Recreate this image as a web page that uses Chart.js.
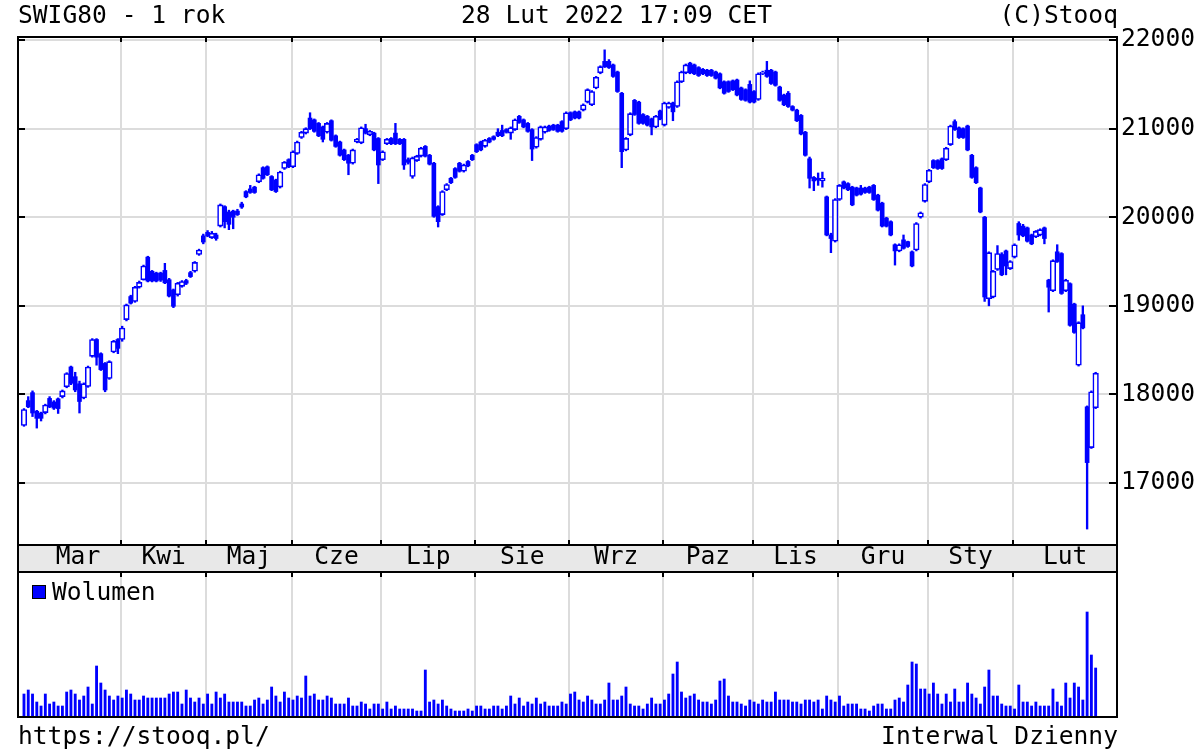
<!DOCTYPE html>
<html>
<head>
<meta charset="utf-8">
<title>SWIG80 - 1 rok</title>
<script src="https://cdn.jsdelivr.net/npm/chart.js@4.4.1/dist/chart.umd.min.js"></script>
<style>
  body { margin: 0; background: #fff; }
  #wrap { position: relative; width: 1200px; height: 750px; overflow: hidden;
          font-family: 'DejaVu Sans Mono', monospace; font-size: 24.6px; color: #000; }
  .t { position: absolute; white-space: pre; line-height: 24px; }
  canvas { position: absolute; left: 0; }
  #legbox { position: absolute; left: 32px; top: 585px; width: 14px; height: 14px;
            box-sizing: border-box; border: 1px solid #000; background: #0000ff; }
</style>
</head>
<body>
<div id="wrap">
  <canvas id="price" width="1200" height="580" style="top:0"></canvas>
  <canvas id="vol" width="1200" height="165" style="top:560px"></canvas>
  <div class="t" style="left:18px;top:3px">SWIG80 - 1 rok</div>
  <div class="t" style="left:461px;top:3px">28 Lut 2022 17:09 CET</div>
  <div class="t" style="right:82px;top:3px">(C)Stooq</div>
  <div id="legbox"></div>
  <div class="t" style="left:52px;top:580px">Wolumen</div>
  <div class="t" style="left:18px;top:724px">https://stooq.pl/</div>
  <div class="t" style="right:82px;top:724px">Interwal Dzienny</div>
</div>
<script>
// sWIG80 daily candles, 1 Mar 2021 .. 28 Feb 2022 (index = trading day)
var open = [
  17650,17930,18020,17810,17790,17795,17955,17915,17950,17975,
  18085,18310,18200,18120,17960,18090,18430,18620,18460,18350,
  18180,18480,18620,18620,18845,19105,19050,19210,19295,19550,
  19390,19370,19370,19400,19295,19180,19125,19220,19285,19375,
  19390,19580,19790,19830,19770,19800,19900,20120,20060,20070,
  20070,20150,20290,20320,20340,20400,20560,20570,20460,20420,
  20340,20550,20650,20570,20720,20900,20950,21120,21100,21060,
  21020,20960,21090,20920,20850,20760,20700,20610,20850,20840,
  21000,20930,20950,20890,20650,20830,20890,20950,20880,20880,
  20650,20460,20640,20690,20800,20700,20610,20120,20030,20310,
  20440,20550,20610,20520,20630,20700,20820,20850,20800,20890,
  20910,20960,20980,20990,20950,20990,21140,21100,21060,20990,
  20790,20880,20960,21030,21040,21040,21080,21000,21180,21190,
  21190,21210,21300,21270,21460,21630,21760,21760,21720,21640,
  21400,20760,20930,21320,21300,21160,21140,21110,21020,21200,
  21040,21240,21290,21250,21530,21630,21740,21720,21690,21670,
  21660,21660,21640,21620,21530,21530,21540,21550,21460,21440,
  21500,21420,21330,21620,21660,21660,21640,21470,21380,21400,
  21250,21210,21150,20960,20660,20450,20440,20410,20230,19800,
  19730,20200,20400,20380,20340,20330,20330,20330,20340,20360,
  20250,20160,19990,19950,19690,19620,19745,19725,19610,19630,
  20000,20180,20400,20640,20640,20660,20650,20820,21080,21010,
  21000,21030,20700,20560,20330,20000,19080,19100,19410,19580,
  19620,19420,19550,19930,19900,19880,19800,19780,19800,19880,
  19290,19170,19610,19590,19170,19250,19020,18330,18900,17860,
  17400,17850
];
var high = [
  17840,17975,18040,17820,17800,17890,17975,17930,17960,18050,
  18245,18320,18250,18150,18130,18320,18630,18630,18470,18360,
  18380,18610,18630,18770,19020,19120,19220,19280,19460,19560,
  19400,19380,19380,19480,19310,19190,19265,19285,19300,19390,
  19500,19640,19810,19850,19840,19820,20150,20130,20080,20080,
  20090,20170,20300,20360,20350,20490,20570,20580,20470,20430,
  20520,20630,20660,20750,20860,20970,21010,21180,21110,21070,
  21030,21070,21100,20930,20860,20770,20710,20770,20890,21020,
  21050,20980,20960,20900,20750,20890,20900,21060,20890,20890,
  20670,20680,20700,20790,20810,20710,20620,20130,20300,20380,
  20450,20560,20620,20600,20640,20710,20830,20860,20880,20900,
  20920,21000,21040,21000,21020,21110,21150,21110,21070,21000,
  20910,21030,21030,21040,21050,21050,21090,21190,21190,21200,
  21200,21280,21450,21430,21590,21710,21890,21780,21730,21650,
  21410,20900,21180,21330,21310,21170,21150,21120,21150,21210,
  21300,21300,21300,21540,21650,21730,21750,21730,21700,21680,
  21670,21670,21650,21630,21540,21540,21550,21560,21470,21450,
  21540,21430,21630,21650,21760,21670,21650,21480,21390,21420,
  21260,21220,21160,20970,20680,20460,20500,20510,20240,19820,
  20210,20370,20410,20390,20350,20340,20360,20340,20350,20370,
  20260,20170,20000,19960,19700,19700,19800,19730,19620,19940,
  20060,20380,20540,20650,20650,20670,20790,21040,21100,21020,
  21010,21040,20710,20570,20340,20010,19610,19400,19680,19600,
  19630,19510,19700,19950,19920,19890,19810,19850,19870,19890,
  19300,19520,19690,19600,19300,19260,19030,18820,19000,17870,
  18040,18250
];
var low = [
  17640,17850,17750,17620,17700,17780,17850,17830,17785,17960,
  18075,18110,18030,17790,17950,18080,18420,18330,18270,18030,
  18170,18470,18460,18600,18830,19020,19040,19200,19290,19270,
  19270,19270,19275,19250,19100,18980,19110,19210,19240,19320,
  19380,19570,19700,19780,19760,19740,19890,19880,19860,19870,
  20020,20100,20220,20270,20270,20390,20430,20470,20300,20280,
  20330,20540,20560,20560,20710,20890,20940,20990,20960,20910,
  20850,20950,20860,20790,20690,20640,20480,20600,20840,20830,
  20940,20920,20750,20380,20640,20820,20820,20820,20820,20540,
  20600,20440,20630,20680,20680,20590,20000,19890,20020,20300,
  20380,20440,20510,20510,20570,20640,20730,20750,20790,20840,
  20870,20910,20910,20950,20880,20980,21060,21010,20960,20640,
  20780,20870,20950,20970,20980,20960,20960,20990,21090,21110,
  21110,21200,21290,21260,21450,21620,21690,21680,21580,21410,
  20560,20750,20920,21150,21050,21050,21030,20930,21010,21100,
  21030,21230,21090,21240,21520,21620,21620,21610,21590,21610,
  21590,21590,21560,21450,21390,21410,21430,21370,21320,21310,
  21290,21290,21320,21610,21580,21500,21480,21310,21260,21240,
  21200,21080,20930,20690,20330,20300,20360,20340,19790,19600,
  19720,20190,20320,20300,20130,20240,20250,20270,20270,20190,
  20070,19890,19890,19790,19460,19610,19640,19660,19440,19620,
  19990,20170,20390,20550,20540,20540,20640,20810,20980,20890,
  20890,20750,20440,20380,20050,19050,19000,19090,19400,19340,
  19350,19410,19540,19740,19780,19720,19690,19770,19790,19700,
  18930,19160,19490,19130,19160,18770,18690,18320,18740,16480,
  17390,17840
];
var close = [
  17830,17860,17790,17730,17730,17880,17860,17845,17840,18040,
  18235,18125,18050,17920,18120,18310,18620,18420,18280,18050,
  18370,18600,18520,18750,19010,19030,19210,19265,19450,19280,
  19280,19280,19290,19260,19110,18995,19255,19275,19255,19330,
  19490,19630,19720,19790,19820,19760,20140,19950,19920,20000,
  20030,20115,20230,20280,20280,20480,20440,20480,20310,20290,
  20510,20620,20570,20740,20850,20960,21000,21000,20970,20920,
  20880,21060,20870,20800,20700,20650,20610,20760,20880,21010,
  20950,20970,20760,20590,20740,20880,20830,20830,20830,20590,
  20620,20670,20690,20780,20690,20600,20010,19950,20290,20370,
  20390,20450,20520,20590,20580,20650,20740,20760,20870,20850,
  20880,20920,20920,20960,21010,21100,21070,21020,20970,20770,
  20900,21020,21020,20980,20990,20970,20970,21180,21100,21120,
  21120,21270,21440,21420,21580,21700,21700,21690,21590,21420,
  20740,20890,21170,21160,21060,21060,21040,21020,21140,21110,
  21290,21290,21190,21530,21640,21720,21630,21620,21600,21620,
  21600,21600,21570,21460,21400,21420,21440,21380,21330,21320,
  21300,21300,21620,21640,21590,21510,21490,21320,21270,21250,
  21210,21090,20940,20700,20440,20410,20420,20440,19800,19760,
  20200,20360,20330,20310,20140,20250,20260,20280,20280,20200,
  20080,19900,19900,19800,19620,19690,19650,19670,19450,19930,
  20050,20370,20530,20560,20550,20550,20780,21030,20990,20900,
  20900,20760,20450,20390,20060,19100,19600,19390,19590,19350,
  19450,19500,19690,19800,19790,19730,19700,19840,19860,19760,
  19210,19510,19500,19140,19290,18780,18700,18810,18750,17230,
  18030,18240
];
var volume = [
  23,27,23,15,11,23,13,15,11,11,
  25,27,23,17,21,30,13,51,34,27,
  21,17,21,19,27,23,17,17,21,19,
  19,19,19,19,23,25,25,13,27,19,
  15,19,13,23,13,25,19,23,15,15,
  15,15,11,11,17,19,13,17,30,21,
  15,25,19,17,21,19,41,21,23,17,
  17,21,19,13,13,13,19,11,11,15,
  13,8,13,13,8,15,8,11,8,8,
  8,8,6,6,47,15,17,13,17,11,
  8,6,6,6,8,6,11,11,8,8,
  11,11,8,11,21,13,19,11,15,13,
  19,13,15,11,11,11,15,13,23,25,
  17,15,21,17,13,13,17,34,17,17,
  21,30,13,11,11,8,13,19,13,13,
  17,23,43,55,25,19,21,23,17,15,
  15,13,17,36,38,21,15,15,13,11,
  17,15,13,17,15,15,25,17,17,17,
  15,15,13,17,17,15,17,8,21,17,
  15,21,11,13,13,13,8,8,6,11,
  13,13,8,8,17,19,15,32,55,53,
  28,28,23,34,23,13,23,15,28,15,
  15,34,23,19,13,30,47,21,21,13,
  11,11,8,32,15,15,11,15,11,11,
  11,28,15,11,34,19,34,30,17,105,
  62,49
];
var monthNames = ['Mar','Kwi','Maj','Cze','Lip','Sie','Wrz','Paz','Lis','Gru','Sty','Lut'];
var monthFirstDay = [0,23,43,63,84,106,128,150,171,191,212,232];
var priceTicks = [17000,18000,19000,20000,21000,22000];

var BLUE = '#0000ff';
var GRID = '#dcdcdc';
var X_MIN = -1.4, X_MAX = 256;
var BAND = 27;

Chart.defaults.font.family = "'DejaVu Sans Mono', monospace";
Chart.defaults.font.size = 24.6;
Chart.defaults.color = '#000';

var gridAt = monthFirstDay.slice(1).map(function(d){ return d - 0.3; });
var labelAt = monthNames.map(function(m, k){
  var a = k == 0 ? 2.6 : gridAt[k-1];
  var b = k == monthNames.length - 1 ? X_MAX : gridAt[k];
  return (a + b) / 2;
});
var idx = close.map(function(v, i){ return i; });
var upDays = idx.filter(function(i){ return close[i] >= open[i]; });
var downDays = idx.filter(function(i){ return close[i] < open[i]; });

function bodyPoint(i){
  return { x: i, y: [Math.min(open[i], close[i]), Math.max(open[i], close[i])] };
}

var framePrice = {
  id: 'framePrice',
  beforeDraw: function(chart){
    var ca = chart.chartArea, c = chart.ctx;
    c.save();
    c.fillStyle = '#e8e8e8';
    c.fillRect(ca.left, ca.bottom, ca.right - ca.left, BAND);
    c.restore();
  },
  afterDraw: function(chart){
    var ca = chart.chartArea, c = chart.ctx;
    var xs = chart.scales.x, ys = chart.scales.y;
    c.save();
    c.strokeStyle = '#000';
    c.lineWidth = 2;
    c.strokeRect(ca.left, ca.top, ca.right - ca.left, ca.bottom - ca.top);
    c.strokeRect(ca.left, ca.bottom, ca.right - ca.left, BAND);
    c.beginPath();
    gridAt.forEach(function(v){
      var px = Math.round(xs.getPixelForValue(v));
      c.moveTo(px, ca.top); c.lineTo(px, ca.top + 5);
      c.moveTo(px, ca.bottom - 5); c.lineTo(px, ca.bottom);
    });
    priceTicks.forEach(function(v){
      var py = Math.round(ys.getPixelForValue(v));
      c.moveTo(ca.left, py); c.lineTo(ca.left + 7, py);
      c.moveTo(ca.right - 8, py); c.lineTo(ca.right, py);
    });
    c.stroke();
    c.restore();
  }
};

var frameVol = {
  id: 'frameVol',
  afterDraw: function(chart){
    var ca = chart.chartArea, c = chart.ctx;
    var xs = chart.scales.x;
    c.save();
    c.strokeStyle = '#000';
    c.lineWidth = 2;
    c.strokeRect(ca.left, ca.top, ca.right - ca.left, ca.bottom - ca.top);
    c.beginPath();
    gridAt.forEach(function(v){
      var px = Math.round(xs.getPixelForValue(v));
      c.moveTo(px, ca.top); c.lineTo(px, ca.top + 5);
    });
    c.stroke();
    c.restore();
  }
};

new Chart(document.getElementById('price'), {
  type: 'bar',
  data: {
    datasets: [
      {
        label: 'knot',
        data: idx.map(function(i){ return { x: i, y: [low[i], high[i]] }; }),
        backgroundColor: BLUE,
        barThickness: 1.7,
        grouped: false,
        order: 3
      },
      {
        label: 'down',
        data: downDays.map(bodyPoint),
        backgroundColor: BLUE,
        borderWidth: 0,
        barThickness: 4,
        grouped: false,
        order: 2
      },
      {
        label: 'up',
        data: upDays.map(bodyPoint),
        backgroundColor: '#ffffff',
        borderColor: BLUE,
        borderWidth: 1.6,
        borderSkipped: false,
        barThickness: 5.6,
        grouped: false,
        order: 1
      }
    ]
  },
  options: {
    responsive: false,
    animation: false,
    devicePixelRatio: 1,
    layout: { padding: { left: 18, top: 37, right: 0, bottom: 8 } },
    plugins: { legend: { display: false }, tooltip: { enabled: false } },
    scales: {
      x: {
        type: 'linear', min: X_MIN, max: X_MAX, offset: false,
        afterBuildTicks: function(axis){
          axis.ticks = gridAt.map(function(v){ return { value: v, grid: true }; })
            .concat(labelAt.map(function(v, k){ return { value: v, name: monthNames[k] }; }));
        },
        afterFit: function(axis){ axis.height = BAND; },
        ticks: {
          autoSkip: false, maxRotation: 0, minRotation: 0, padding: 0,
          font: { size: 24.6, lineHeight: 1 },
          callback: function(value, index, ticks){ return ticks[index].name || ''; }
        },
        grid: {
          drawTicks: false, lineWidth: 2, offset: false,
          color: function(ctx){ return ctx.tick && ctx.tick.grid ? GRID : 'rgba(0,0,0,0)'; }
        },
        border: { display: false }
      },
      y: {
        position: 'right', min: 16300, max: 22035,
        afterBuildTicks: function(axis){
          axis.ticks = priceTicks.map(function(v){ return { value: v }; });
        },
        afterFit: function(axis){ axis.width = 83; },
        ticks: { padding: 4, callback: function(v){ return String(v); } },
        grid: { drawTicks: false, lineWidth: 2, color: GRID },
        border: { display: false }
      }
    }
  },
  plugins: [framePrice]
});

new Chart(document.getElementById('vol'), {
  type: 'bar',
  data: {
    datasets: [{
      label: 'Wolumen',
      data: idx.map(function(i){ return { x: i, y: volume[i] }; }),
      backgroundColor: BLUE,
      barThickness: 2.2,
      grouped: false
    }]
  },
  options: {
    responsive: false,
    animation: false,
    devicePixelRatio: 1,
    layout: { padding: { left: 18, top: 12, right: 83, bottom: 8 } },
    plugins: { legend: { display: false }, tooltip: { enabled: false } },
    scales: {
      x: {
        type: 'linear', min: X_MIN, max: X_MAX, offset: false,
        afterBuildTicks: function(axis){
          axis.ticks = gridAt.map(function(v){ return { value: v }; });
        },
        afterFit: function(axis){ axis.height = 0; },
        ticks: { display: false },
        grid: { drawTicks: false, lineWidth: 2, color: GRID, offset: false },
        border: { display: false }
      },
      y: { display: false, min: 0, max: 145 }
    }
  },
  plugins: [frameVol]
});
</script>
</body>
</html>
